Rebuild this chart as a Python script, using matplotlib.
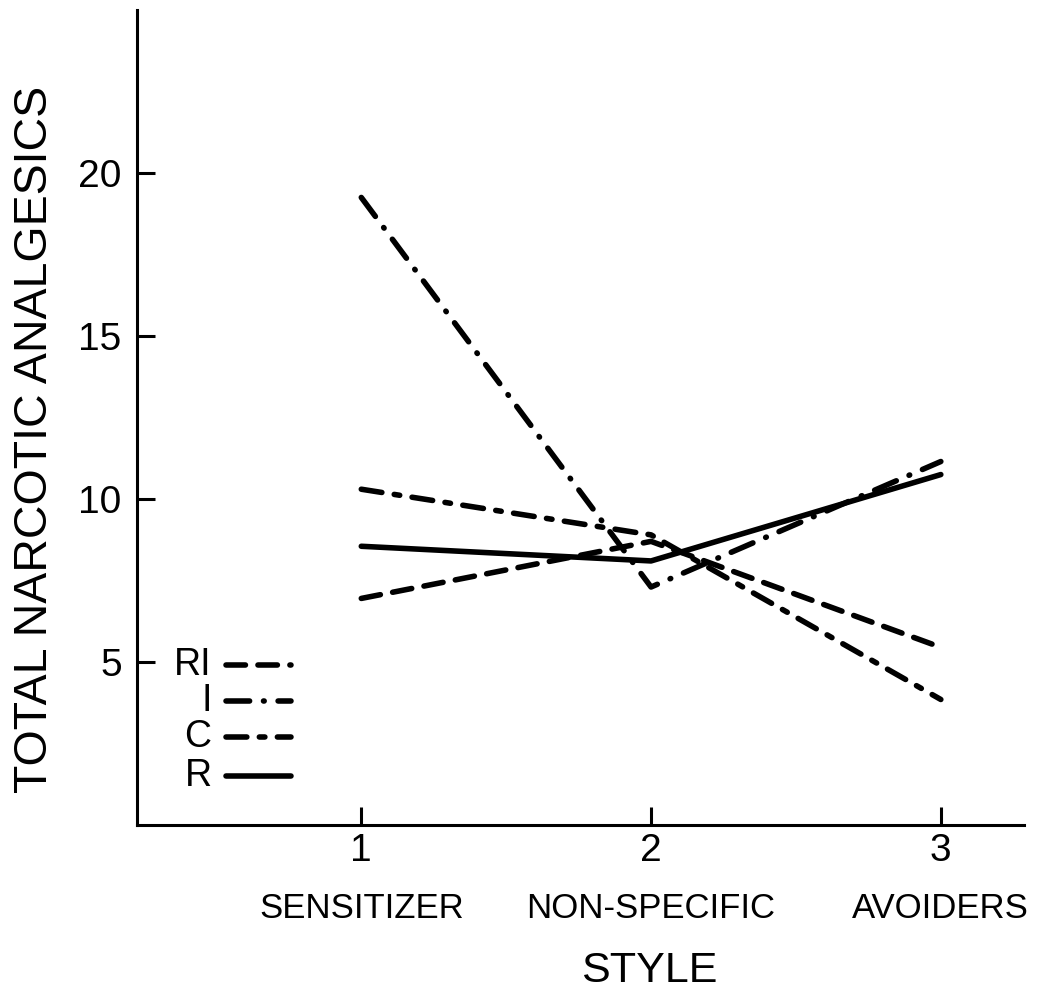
import matplotlib
matplotlib.use("Agg")
import matplotlib.pyplot as plt

plt.rcParams['font.family'] = ['Liberation Sans', 'DejaVu Sans']
plt.rcParams['lines.scale_dashes'] = False

# Coping style groups on the x axis
styles = [1, 2, 3]
style_names = ["SENSITIZER", "NON-SPECIFIC", "AVOIDERS"]

# Total narcotic analgesics per group
ri_vals = [6.95, 8.7, 5.45]
i_vals = [19.25, 7.3, 11.15]
c_vals = [10.3, 8.9, 3.85]
r_vals = [8.55, 8.1, 10.75]

series_labels = ["RI", "I", "C", "R"]
yticks = [5, 10, 15, 20]

LW = 4.0
dash_styles = {
    "RI": (0, (14, 9)),
    "I": (0, (17, 10, 0.5, 10)),
    "C": (0, (15, 9, 4, 9)),
    "R": "-",
}

fig = plt.figure(figsize=(10.41, 9.93), dpi=100)
ax = fig.add_axes([137 / 1041, 1 - 825 / 993, (1024 - 137) / 1041, (825 - 10) / 993])

series = {"RI": ri_vals, "I": i_vals, "C": c_vals, "R": r_vals}
for name in series_labels:
    ax.plot(styles, series[name], color="black", lw=LW, linestyle=dash_styles[name],
            dash_capstyle="round", solid_capstyle="round", solid_joinstyle="round")

ax.set_xlim(0.226, 3.287)
ax.set_ylim(0, 25)

for side in ["top", "right"]:
    ax.spines[side].set_visible(False)
for side in ["left", "bottom"]:
    ax.spines[side].set_linewidth(2.2)

ax.set_yticks(yticks)
ax.set_yticklabels([str(v) for v in yticks])
ax.set_xticks(styles)
ax.set_xticklabels([str(v) for v in styles])
ax.tick_params(axis="both", direction="in", length=13, width=2.2, labelsize=28)
ax.tick_params(axis="y", pad=11)
ax.tick_params(axis="x", pad=6)

# Category names under the tick numbers
for x, name in zip(styles, style_names):
    ax.text(x, -0.102, name, transform=ax.get_xaxis_transform(), ha="center", va="center",
            fontsize=25)

# Hand-drawn style key in the lower left
key_y = [0.196, 0.152, 0.108, 0.060]
for name, ky in zip(series_labels, key_y):
    ax.text(0.084, ky, name, transform=ax.transAxes, ha="right", va="center", fontsize=27)
    ax.plot([0.1, 0.174], [ky, ky], transform=ax.transAxes, color="black", lw=LW,
            linestyle=dash_styles[name], dash_capstyle="round", solid_capstyle="round")

fig.text(35 / 1041, 1 - 439 / 993, "TOTAL NARCOTIC ANALGESICS", rotation=90,
         ha="center", va="center", fontsize=33.5)
fig.text(649 / 1041, 1 - 971 / 993, "STYLE", ha="center", va="center", fontsize=31)

fig.savefig("out.png", dpi=100)
